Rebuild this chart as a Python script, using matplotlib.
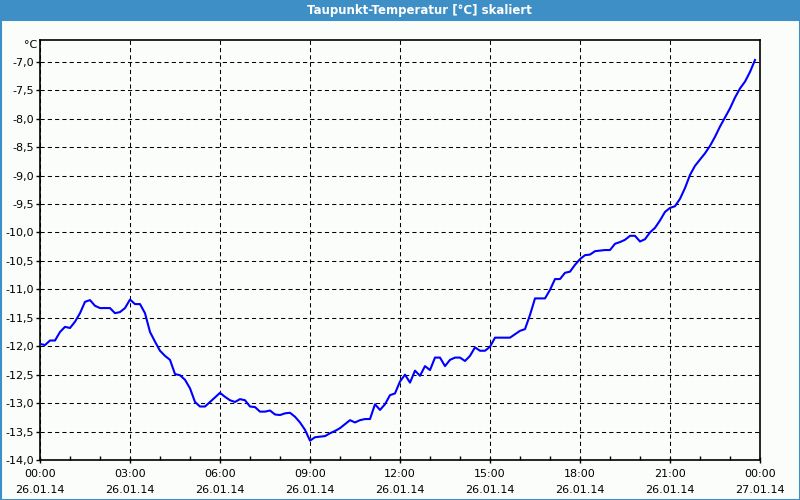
import matplotlib
matplotlib.use("Agg")
import matplotlib.pyplot as plt
from matplotlib.patches import Rectangle
from matplotlib.ticker import MultipleLocator, FixedLocator
import numpy as np

title = "Taupunkt-Temperatur [°C] skaliert"
unit = "°C"

# one value every 10 minutes, starting 26.01.14 00:00
interval_min = 10
temps = [
    -11.96, -11.98, -11.90, -11.90, -11.75, -11.66, -11.68, -11.57, -11.42, -11.22,
    -11.19, -11.29, -11.33, -11.33, -11.33, -11.42, -11.40, -11.33, -11.18, -11.26,
    -11.26, -11.42, -11.75, -11.92, -12.08, -12.17, -12.24, -12.49, -12.51, -12.59,
    -12.74, -12.98, -13.06, -13.06, -12.98, -12.90, -12.82, -12.89, -12.95, -12.98,
    -12.93, -12.95, -13.06, -13.07, -13.15, -13.15, -13.13, -13.20, -13.21, -13.18,
    -13.17, -13.24, -13.34, -13.47, -13.66, -13.60, -13.59, -13.58, -13.53, -13.49,
    -13.44, -13.37, -13.30, -13.34, -13.30, -13.28, -13.28, -13.02, -13.12, -13.02,
    -12.86, -12.83, -12.62, -12.50, -12.64, -12.43, -12.52, -12.35, -12.42, -12.20,
    -12.20, -12.35, -12.24, -12.20, -12.20, -12.26, -12.17, -12.02, -12.08, -12.08,
    -12.01, -11.85, -11.85, -11.85, -11.85, -11.79, -11.73, -11.70, -11.45, -11.16,
    -11.16, -11.16, -11.01, -10.82, -10.82, -10.71, -10.69, -10.57, -10.47, -10.40,
    -10.39, -10.33, -10.32, -10.31, -10.31, -10.20, -10.17, -10.13, -10.06, -10.06,
    -10.16, -10.12, -10.00, -9.92, -9.79, -9.64, -9.57, -9.54, -9.41, -9.22,
    -8.99, -8.83, -8.72, -8.61, -8.48, -8.32, -8.14, -7.98, -7.82, -7.63,
    -7.47, -7.35, -7.18, -6.97,
]
tick_hours = [0, 3, 6, 9, 12, 15, 18, 21, 24]
tick_labels = ["00:00\n26.01.14", "03:00\n26.01.14", "06:00\n26.01.14",
               "09:00\n26.01.14", "12:00\n26.01.14", "15:00\n26.01.14",
               "18:00\n26.01.14", "21:00\n26.01.14", "00:00\n27.01.14"]
y_ticks = [-14.0, -13.5, -13.0, -12.5, -12.0, -11.5, -11.0, -10.5, -10.0,
           -9.5, -9.0, -8.5, -8.0, -7.5, -7.0]

hours = np.arange(len(temps)) * interval_min / 60.0

bg = "#fbfdfb"
bar_blue = "#3d8fc6"

fig = plt.figure(figsize=(8, 5), dpi=100, facecolor=bg)
plt.rcParams['font.family'] = ['DejaVu Sans']

# title bar and frame
fig.patches.append(Rectangle((0, 479/500), 1, 21/500, transform=fig.transFigure,
                             facecolor=bar_blue, edgecolor='none', zorder=0))
fig.patches.append(Rectangle((0.5/800, 0.5/500), 799/800, 480/500, transform=fig.transFigure,
                             facecolor='none', edgecolor=bar_blue, lw=1.5, zorder=0))
fig.text(419/800, 1 - 10.5/500, title, color='white', fontsize=8.5, fontweight='bold',
         ha='center', va='center')

ax = fig.add_axes([40/800, 40/500, 720/800, 420/500])
ax.set_facecolor(bg)
ax.plot(hours, temps, color='#0000ff', lw=1.5, solid_joinstyle='round', zorder=3)

ax.set_xlim(0, 24)
ax.set_ylim(-14.0, -14.0 + 420 / 28.45 * 0.5)

ax.xaxis.set_major_locator(FixedLocator(tick_hours))
ax.set_xticklabels(tick_labels, fontsize=8, linespacing=1.75)
ax.xaxis.set_minor_locator(MultipleLocator(1))
ax.yaxis.set_major_locator(FixedLocator(y_ticks))
ax.set_yticklabels([f"{v:.1f}".replace('.', ',') for v in y_ticks], fontsize=8)

ax.tick_params(axis='x', which='major', direction='inout', length=5, width=1, pad=4)
ax.tick_params(axis='x', which='minor', direction='in', length=3, width=1)
ax.tick_params(axis='y', which='major', direction='out', length=3, width=1, pad=1)

ax.grid(True, which='major', color='black', lw=0.75, linestyle=(0, (4, 3)))
for s in ax.spines.values():
    s.set_linewidth(1.2)
    s.set_color('black')

fig.text(37/800, 1 - 45/500, unit, fontsize=8, ha='right', va='center')

fig.savefig("out.png", dpi=100, facecolor=bg)
